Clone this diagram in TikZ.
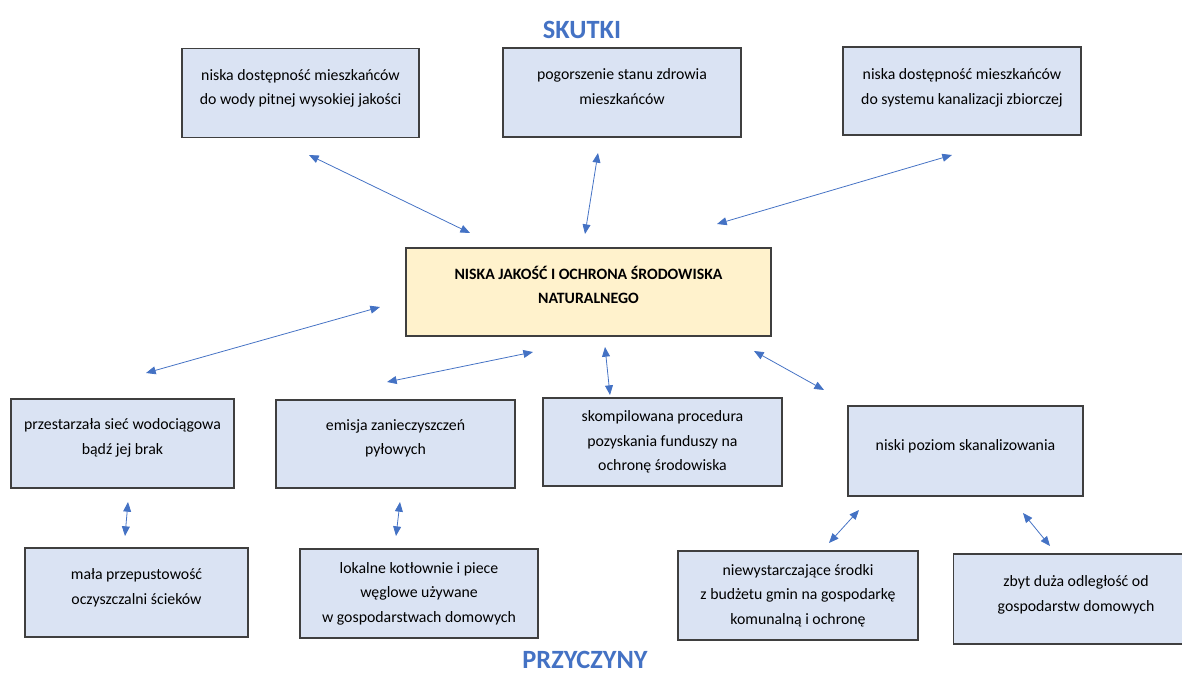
\documentclass[tikz,border=0pt]{standalone}
\usepackage{fontspec}
\setmainfont{Carlito}
\usetikzlibrary{arrows.meta}
\definecolor{boxfill}{HTML}{DAE3F3}
\definecolor{corefill}{HTML}{FFF2CC}
\definecolor{boxline}{HTML}{3F3F3F}
\definecolor{linkblue}{HTML}{4472C4}
\tikzset{
  effect/.style={draw=boxline, fill=boxfill, line width=0.9pt, minimum height=1.78cm,
    align=center, font=\fontsize{9}{14}\selectfont, inner sep=2pt},
  core/.style={effect, fill=corefill, font=\fontsize{9}{14}\selectfont\bfseries},
  link/.style={draw=linkblue, line width=0.45pt, {Triangle[length=5.5pt,width=4.5pt]}-{Triangle[length=5.5pt,width=4.5pt]}},
  heading/.style={text=linkblue, font=\fontsize{15}{18}\selectfont\bfseries}
}
\begin{document}
\begin{tikzpicture}[x=0.02cm, y=-0.02cm]
\useasboundingbox (0,0) rectangle (1182,673);
% Headings
\node[heading] (skutki) at (582,30) {SKUTKI};
\node[heading, anchor=base] (przyczyny) at (585,668) {PRZYCZYNY};
% Effects
\node[effect, minimum width=4.74cm] (skA) at (300.5,93) {niska dostępność mieszkańców\\do wody pitnej wysokiej jakości\\[-7pt]};
\node[effect, minimum width=4.76cm] (skB) at (622,92.5) {pogorszenie stanu zdrowia\\mieszkańców\\[-7pt]};
\node[effect, minimum width=4.76cm, minimum height=1.76cm] (skC) at (962,91) {niska dostępność mieszkańców\\do systemu kanalizacji zbiorczej\\[-9pt]};
% Problem
\node[core, minimum width=7.3cm, minimum height=1.76cm] (centre) at (588.5,292) {NISKA JAKOŚĆ I OCHRONA ŚRODOWISKA\\NATURALNEGO\\[-6pt]};
% Causes
\node[effect, minimum width=4.46cm] (prA) at (122.5,443.5) {przestarzała sieć wodociągowa\\bądź jej brak\\[-6pt]};
\node[effect, minimum width=4.78cm, minimum height=1.76cm] (prB) at (395.5,444) {emisja zanieczyszczeń\\pyłowych\\[-6pt]};
\node[effect, minimum width=4.78cm, minimum height=1.76cm] (prC) at (662.5,442) {skompilowana procedura\\pozyskania funduszy na\\ochronę środowiska};
\node[effect, minimum width=4.7cm, minimum height=1.8cm] (prD) at (965.5,451) {niski poziom skanalizowania\\[-7pt]};
\node[effect, minimum width=4.46cm] (prE) at (136.5,592.5) {mała przepustowość\\oczyszczalni ścieków\\[-7pt]};
\node[effect, minimum width=4.76cm] (prF) at (419,593.5) {lokalne kotłownie i piece\\węglowe używane\\w gospodarstwach domowych};
\node[effect, minimum width=4.8cm] (prG) at (798,595.5) {niewystarczające środki\\z budżetu gmin na gospodarkę\\komunalną i ochronę};
\node[effect, minimum width=4.9cm, minimum height=1.8cm] (prH) at (1076,599) {zbyt duża odległość od\\gospodarstw domowych\\[-8pt]};
% Arrow ends
\coordinate (a1) at (309,155);  \coordinate (b1) at (470,233);
\coordinate (a2) at (598,153);  \coordinate (b2) at (585,234);
\coordinate (a3) at (952,155);  \coordinate (b3) at (717,224);
\coordinate (a4) at (380,307);  \coordinate (b4) at (146,373);
\coordinate (a5) at (533,352);  \coordinate (b5) at (387,382);
\coordinate (a6) at (605,347);  \coordinate (b6) at (610,395);
\coordinate (a7) at (754,351);  \coordinate (b7) at (824,390);
\coordinate (a8) at (128,502);  \coordinate (b8) at (125,536);
\coordinate (a9) at (400,502);  \coordinate (b9) at (396,536);
\coordinate (a10) at (859,510); \coordinate (b10) at (829,543);
\coordinate (a11) at (1023,513); \coordinate (b11) at (1050,546);
% Connectors
\foreach \i in {1,...,11}
  \draw[link] (a\i) -- (b\i);
\end{tikzpicture}
\end{document}
